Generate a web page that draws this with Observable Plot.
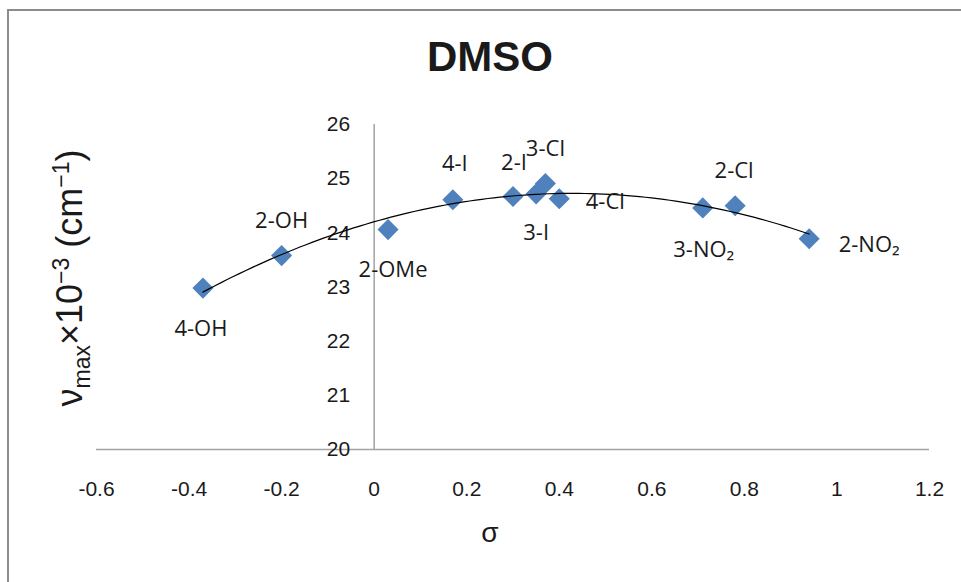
<!DOCTYPE html>
<html>
<head>
<meta charset="utf-8">
<script src="https://cdn.jsdelivr.net/npm/d3@7"></script>
<script src="https://cdn.jsdelivr.net/npm/@observablehq/plot@0.6"></script>
<style>
  body { margin: 0; background: #fff; }
  #wrap { position: relative; width: 961px; height: 582px; overflow: hidden; font-family: "Open Sans", sans-serif; color: #1a1a1a; }
  #frame { position: absolute; left: 7px; top: 9px; width: 1000px; height: 700px; border-left: 2px solid #8c8c8c; border-top: 2px solid #8c8c8c; }
  #title { position: absolute; left: 0; width: 980px; top: 36px; text-align: center; font: bold 42px "Liberation Sans", Arial, sans-serif; line-height: 1; }
  #ylabel { position: absolute; left: 72px; top: 278px; transform: translate(-50%, -50%) rotate(-90deg); white-space: nowrap; font-size: 36px; font-family: "Liberation Sans", Arial, sans-serif; line-height: 1; }
  #ylabel sub, #ylabel sup { font-size: 23px; }
  #xlabel { position: absolute; left: 490px; top: 533px; transform: translate(-50%, -50%); font-size: 28px; font-family: "Liberation Sans", Arial, sans-serif; }
  #chart { position: absolute; left: 0; top: 0; }
</style>
</head>
<body>
<div id="wrap">
  <div id="frame"></div>
  <div id="chart"></div>
  <div id="title">DMSO</div>
  <div id="ylabel">ν<sub>max</sub>×10<sup>−3</sup> (cm<sup>−1</sup>)</div>
  <div id="xlabel">σ</div>
</div>
<script>
// Substituent constants (σ) and absorption maxima (ν_max × 10⁻³, cm⁻¹) in DMSO
const substituent = ["4-OH", "2-OH", "2-OMe", "4-I", "2-I", "3-I", "3-Cl", "4-Cl", "3-NO₂", "2-Cl", "2-NO₂"];
const sigma = [-0.37, -0.20, 0.03, 0.17, 0.30, 0.35, 0.37, 0.40, 0.71, 0.78, 0.94];
const nuMax = [22.98, 23.58, 24.06, 24.61, 24.67, 24.72, 24.91, 24.63, 24.46, 24.50, 23.89];

// Axis ticks
const xTicks = [-0.6, -0.4, -0.2, 0, 0.2, 0.4, 0.6, 0.8, 1, 1.2];
const xTickLabels = ["-0.6", "-0.4", "-0.2", "0", "0.2", "0.4", "0.6", "0.8", "1", "1.2"];
const yTicks = [20, 21, 22, 23, 24, 25, 26];

// Where each point label sits relative to its marker (pixels)
const labelNudge = [[-2, 41], [0, -35], [5, 40], [2, -36], [1, -34], [0, 39], [0, -35], [46, 3], [1, 42], [-1, -35], [60, 6]];

const points = sigma.map((s, i) => ({sigma: s, nu: nuMax[i], name: substituent[i]}));

// Second-order polynomial trendline by least squares
function quadFit(xs, ys) {
  const S = k => d3.sum(xs, x => x ** k);
  const T = k => d3.sum(xs, (x, i) => x ** k * ys[i]);
  const A = [[S(0), S(1), S(2)], [S(1), S(2), S(3)], [S(2), S(3), S(4)]];
  const b = [T(0), T(1), T(2)];
  const n = 3;
  for (let c = 0; c < n; c++) {
    for (let r = c + 1; r < n; r++) {
      const f = A[r][c] / A[c][c];
      for (let k = c; k < n; k++) A[r][k] -= f * A[c][k];
      b[r] -= f * b[c];
    }
  }
  const coef = [0, 0, 0];
  for (let r = n - 1; r >= 0; r--) {
    let s = b[r];
    for (let k = r + 1; k < n; k++) s -= A[r][k] * coef[k];
    coef[r] = s / A[r][r];
  }
  return coef;
}
const [c0, c1, c2] = quadFit(sigma, nuMax);
const [xMin, xMax] = d3.extent(sigma);
const trend = d3.range(0, 101).map(i => {
  const x = xMin + (xMax - xMin) * i / 100;
  return {sigma: x, nu: c0 + c1 * x + c2 * x * x};
});

const axisColor = "#a3a3a3";
const textColor = "#1a1a1a";

const labelMarks = points.map((p, i) => Plot.text([p], {
  x: "sigma", y: "nu", text: "name",
  dx: labelNudge[i][0], dy: labelNudge[i][1],
  fontSize: 22, fill: textColor, fontFamily: "'Open Sans', sans-serif"
}));

const chart = Plot.plot({
  width: 961,
  height: 582,
  marginLeft: 96,
  marginRight: 32,
  marginTop: 124,
  marginBottom: 133,
  x: {domain: [-0.6, 1.2], axis: null},
  y: {domain: [20, 26], axis: null},
  style: {background: "transparent", overflow: "visible"},
  marks: [
    Plot.ruleY([20], {x1: -0.6, x2: 1.2, stroke: axisColor, strokeWidth: 1.5}),
    Plot.ruleX([0], {y1: 20, y2: 26, stroke: axisColor, strokeWidth: 1.5}),
    Plot.text(yTicks, {
      x: 0, y: d => d, text: d => String(d), dx: -24, textAnchor: "end",
      fontSize: 21, fill: textColor, fontFamily: "'Liberation Sans', sans-serif"
    }),
    Plot.text(xTicks, {
      x: d => d, y: 20, text: (d, i) => xTickLabels[i], dy: 40,
      fontSize: 21, fill: textColor, fontFamily: "'Liberation Sans', sans-serif"
    }),
    Plot.dot(points, {
      x: "sigma", y: "nu", symbol: "diamond2", r: 9.5,
      fill: "#4f81bd", stroke: "none"
    }),
    Plot.line(trend, {x: "sigma", y: "nu", stroke: "#000", strokeWidth: 1.2}),
    ...labelMarks
  ]
});

document.getElementById("chart").appendChild(chart);
</script>
</body>
</html>
